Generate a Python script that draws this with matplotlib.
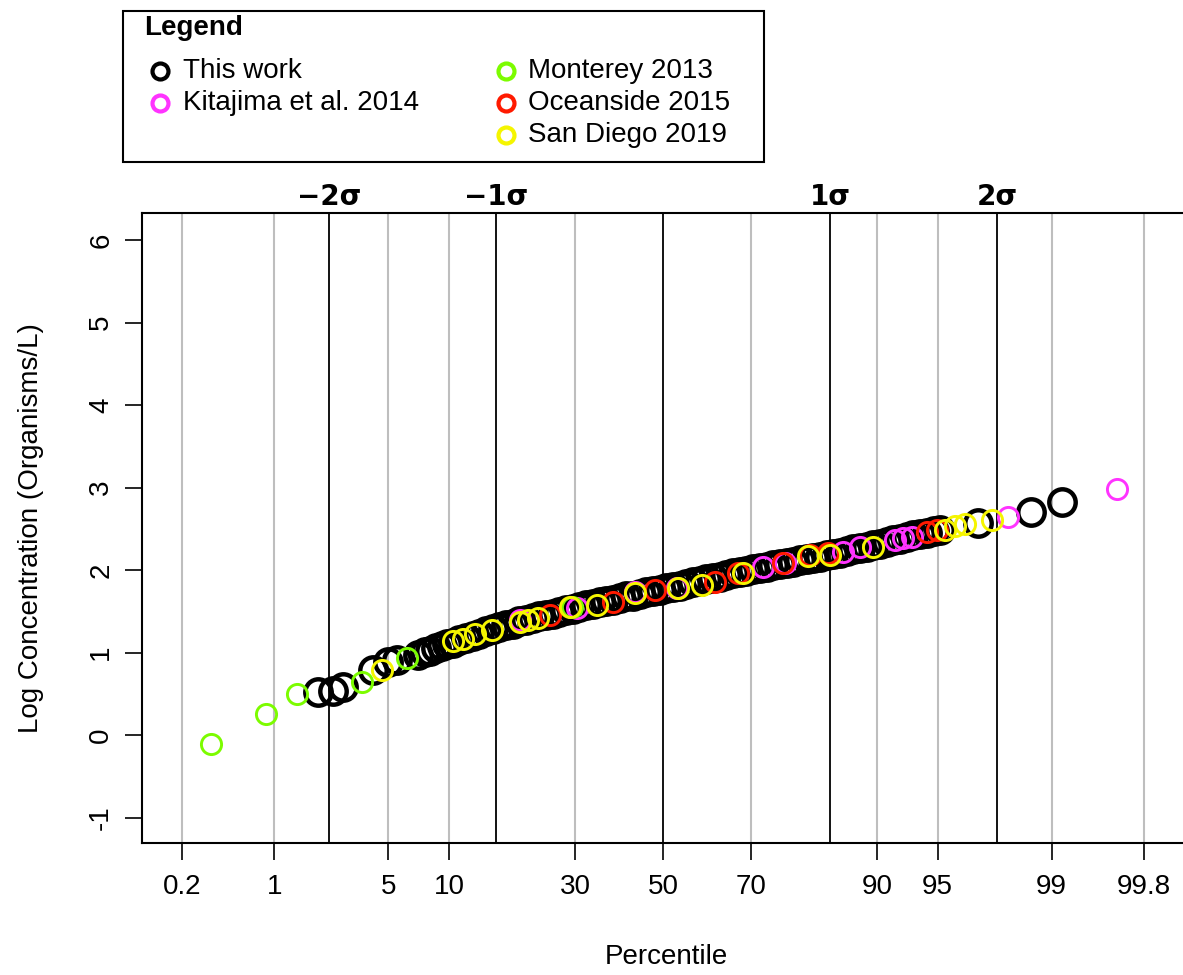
import matplotlib
matplotlib.use("Agg")
import matplotlib.pyplot as plt
from matplotlib.lines import Line2D
from matplotlib.patches import Rectangle
import matplotlib.transforms as mtransforms
from statistics import NormalDist

plt.rcParams['font.family'] = ['Liberation Sans', 'DejaVu Sans']

# ---------------- data (theoretical normal quantile z, log10 concentration) -------------
this_work_z = [-2.066, -1.976, -1.916, -1.737, -1.647, -1.593, -1.467, -1.425, -1.395,
               -1.359, -1.323, -1.293,
               -1.26, -1.22, -1.18, -1.14, -1.10, -1.06, -1.02, -0.98, -0.94, -0.90,
               -0.86, -0.82, -0.78, -0.74, -0.70, -0.66, -0.62, -0.58, -0.54, -0.50,
               -0.46, -0.42, -0.38, -0.34, -0.30, -0.26, -0.22, -0.18, -0.14, -0.10,
               -0.06, -0.02, 0.02, 0.06, 0.10, 0.14, 0.18, 0.22, 0.26, 0.30,
               0.34, 0.38, 0.42, 0.46, 0.50, 0.54, 0.58, 0.62, 0.66, 0.70,
               0.74, 0.78, 0.82, 0.86, 0.90, 0.94, 0.98, 1.02, 1.06, 1.10,
               1.14, 1.18, 1.22, 1.26, 1.30, 1.34, 1.38, 1.42, 1.46, 1.50,
               1.54, 1.58, 1.62, 1.66,
               1.886, 2.204, 2.389]
this_work_v = [0.52, 0.53, 0.58, 0.79, 0.88, 0.91, 0.97, 1.01, 1.02,
               1.05, 1.08, 1.10,
               1.12, 1.15, 1.18, 1.20, 1.23, 1.26, 1.28, 1.31, 1.33, 1.35,
               1.38, 1.40, 1.42, 1.44, 1.46, 1.47, 1.49, 1.51, 1.53, 1.55,
               1.57, 1.59, 1.61, 1.62, 1.64, 1.66, 1.68, 1.69, 1.71, 1.73,
               1.74, 1.76, 1.78, 1.80, 1.81, 1.83, 1.85, 1.87, 1.89, 1.90,
               1.92, 1.94, 1.96, 1.98, 1.99, 2.01, 2.02, 2.04, 2.06, 2.07,
               2.09, 2.10, 2.12, 2.13, 2.15, 2.16, 2.18, 2.19, 2.21, 2.23,
               2.25, 2.27, 2.28, 2.30, 2.32, 2.34, 2.36, 2.38, 2.40, 2.42,
               2.44, 2.45, 2.47, 2.49,
               2.57, 2.70, 2.82]

kitajima_z = [-0.856, -0.515, -0.168, 0.084, 0.599, 0.731, 1.078, 1.180, 1.389,
              1.437, 1.491, 2.066, 2.719]
kitajima_v = [1.39, 1.54, 1.73, 1.78, 2.04, 2.08, 2.22, 2.28, 2.36,
              2.39, 2.40, 2.64, 2.98]

monterey_z = [-2.707, -2.377, -2.192, -1.802, -1.533, -0.545]
monterey_v = [-0.11, 0.25, 0.50, 0.64, 0.93, 1.55]

oceanside_z = [-0.677, -0.299, -0.048, 0.311, 0.449, 0.719, 0.880, 0.988, 1.581, 1.641]
oceanside_v = [1.45, 1.61, 1.76, 1.85, 1.96, 2.08, 2.18, 2.21, 2.46, 2.48]

sandiego_z = [-1.683, -1.257, -1.198, -1.126, -1.024, -0.856, -0.808, -0.749, -0.557,
              -0.395, -0.168, 0.090, 0.234, 0.479, 0.868, 1.000, 1.257, 1.689,
              1.749, 1.808, 1.970]
sandiego_v = [0.79, 1.14, 1.16, 1.22, 1.27, 1.37, 1.39, 1.42, 1.55,
              1.58, 1.72, 1.78, 1.82, 1.96, 2.17, 2.18, 2.28, 2.49,
              2.53, 2.56, 2.61]

tick_pcts = [0.2, 1, 5, 10, 30, 50, 70, 90, 95, 99, 99.8]
tick_labels = ['0.2', '1', '5', '10', '30', '50', '70', '90', '95', '99', '99.8']
sigma_levels = [-2, -1, 0, 1, 2]
sigma_labels = ['\u22122\u03c3', '\u22121\u03c3', '', '1\u03c3', '2\u03c3']
y_ticks = [-1, 0, 1, 2, 3, 4, 5, 6]

series = [
    ('This work', this_work_z, this_work_v, 'black'),
    ('Kitajima et al. 2014', kitajima_z, kitajima_v, '#ff33ff'),
    ('Monterey 2013', monterey_z, monterey_v, '#7cfc00'),
    ('Oceanside 2015', oceanside_z, oceanside_v, '#ff1a00'),
    ('San Diego 2019', sandiego_z, sandiego_v, '#f5f500'),
]

# ---------------- figure ----------------
W, H = 1183, 975
fig = plt.figure(figsize=(W / 100, H / 100), dpi=100)
ax_l, ax_r, ax_t, ax_b = 142, 1190, 213, 843
ax = fig.add_axes([ax_l / W, 1 - ax_b / H, (ax_r - ax_l) / W, (ax_b - ax_t) / H])
ax.set_xlim((ax_l - 663) / 167, (ax_r - 663) / 167)
ax.set_ylim(-(ax_b - 735) / 82.5, (735 - ax_t) / 82.5)

nd = NormalDist()
tick_z = [nd.inv_cdf(p / 100) for p in tick_pcts]
for p, z in zip(tick_pcts, tick_z):
    if p != 50:
        ax.axvline(z, color='#bebebe', lw=1.5, zorder=0)
trans = mtransforms.blended_transform_factory(ax.transData, ax.transAxes)
for s, lab in zip(sigma_levels, sigma_labels):
    ax.axvline(s, color='black', lw=1.3, zorder=0.5)
    if lab:
        ax.annotate(lab, xy=(s, 1), xycoords=trans, xytext=(0, 8),
                    textcoords='offset pixels', ha='center', va='baseline',
                    fontsize=20, fontweight='bold', family='DejaVu Sans',
                    annotation_clip=False)

for name, zs, vs, col in series:
    if col == 'black':
        ax.plot(zs, vs, 'o', mfc='none', mec=col, ms=19, mew=3.2, zorder=2)
    else:
        ax.plot(zs, vs, 'o', mfc='none', mec=col, ms=14.5, mew=2.1, zorder=3)

ax.set_xticks(tick_z)
ax.set_xticklabels(tick_labels)
ax.set_yticks(y_ticks)
ax.set_yticklabels([str(v) for v in y_ticks], rotation=90, va='center')
ax.tick_params(direction='out', length=12, width=1.2, labelsize=20, pad=10)
ax.tick_params(axis='y', pad=8)
for sp in ['left', 'top', 'bottom']:
    ax.spines[sp].set_linewidth(1.5)
ax.spines['right'].set_visible(False)

ax.set_xlabel('Percentile', fontsize=20, labelpad=32)
ax.set_ylabel('Log Concentration (Organisms/L)', fontsize=20, labelpad=32)

# ---------------- legend (drawn in figure pixels) ----------------
def fx(px):
    return px / W

def fy(py):
    return 1 - py / H

fig.add_artist(Rectangle((fx(123), fy(162)), fx(764) - fx(123), fy(11) - fy(162),
                         transform=fig.transFigure, fill=False, lw=1.5, ec='black'))
fig.text(fx(144), fy(28), 'Legend', fontsize=20, fontweight='bold', ha='left', va='center')
leg_pos = [(160, 183, 71), (160, 183, 103), (506, 528, 71), (506, 528, 103), (506, 528, 135)]
for (name, zs, vs, col), (mx, tx, yy) in zip(series, leg_pos):
    fig.add_artist(Line2D([fx(mx)], [fy(yy)], transform=fig.transFigure, marker='o',
                          mfc='none', mec=col, ms=11.5, mew=3.0, ls='none'))
    fig.text(fx(tx), fy(yy), name, fontsize=20, ha='left', va='center')

fig.savefig('out.png', dpi=100)
